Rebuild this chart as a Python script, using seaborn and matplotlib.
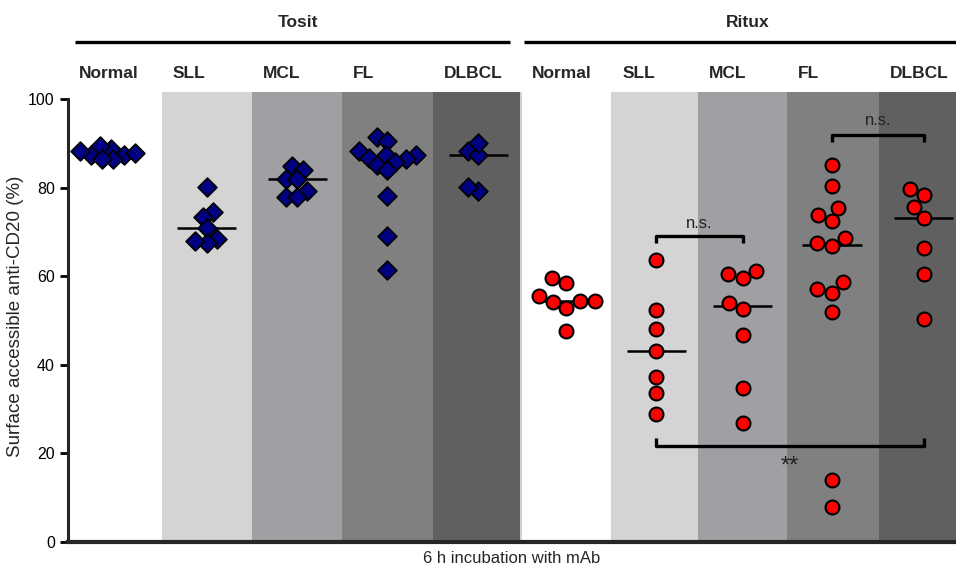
import numpy as np
import pandas as pd
import seaborn as sns
import matplotlib.pyplot as plt
import matplotlib.transforms as mtransforms

# ---------------- data ----------------
drugs = ['Tosit', 'Ritux']
types = ['Normal', 'SLL', 'MCL', 'FL', 'DLBCL']

tosit_normal = [87.3, 87.5, 87.9, 88.8, 89.4, 88.2, 86.4, 86.6]
tosit_sll = [80.1, 74.5, 73.3, 71.0, 68.3, 67.4, 67.9]
tosit_mcl = [84.8, 84.1, 82.0, 82.0, 79.2, 77.9, 77.9]
tosit_fl = [91.5, 90.5, 88.2, 87.5, 87.5, 86.8, 86.4, 85.9, 85.2, 84.1, 78.2, 69.2, 61.3]
tosit_dlbcl = [88.2, 87.3, 90.1, 79.2, 80.2]

ritux_normal = [58.5, 59.6, 55.6, 54.3, 54.5, 54.2, 52.8, 47.7]
ritux_sll = [63.6, 52.4, 48.0, 43.1, 37.2, 33.7, 28.8]
ritux_mcl = [61.1, 59.6, 60.5, 53.9, 52.6, 46.8, 34.8, 26.8]
ritux_fl = [85.2, 80.3, 75.4, 73.8, 72.4, 68.6, 66.9, 67.4, 57.1, 58.6, 56.3, 51.8, 14.0, 7.9]
ritux_dlbcl = [79.8, 78.4, 75.7, 73.2, 66.4, 60.5, 50.4]

# ---------------- layout ----------------
band_left = [0, 1.04, 2.05, 3.05, 4.06, 5.04, 6.04, 7.0, 7.99, 9.01]
band_right = [1.04, 2.05, 3.05, 4.06, 5.02, 6.04, 7.0, 7.99, 9.01, 9.87]
band_colors = ['white', '#d4d4d4', '#a0a0a4', '#808080', '#606060'] * 2
centers = [l + 0.5 for l in band_left]

values = {
    ('Tosit', 'Normal'): tosit_normal, ('Tosit', 'SLL'): tosit_sll,
    ('Tosit', 'MCL'): tosit_mcl, ('Tosit', 'FL'): tosit_fl,
    ('Tosit', 'DLBCL'): tosit_dlbcl,
    ('Ritux', 'Normal'): ritux_normal, ('Ritux', 'SLL'): ritux_sll,
    ('Ritux', 'MCL'): ritux_mcl, ('Ritux', 'FL'): ritux_fl,
    ('Ritux', 'DLBCL'): ritux_dlbcl,
}

rows = []
for i, (d, t) in enumerate([(d, t) for d in drugs for t in types]):
    for v in values[(d, t)]:
        rows.append({'drug': d, 'type': t, 'xpos': centers[i], 'value': v})
df = pd.DataFrame(rows)

sns.set_style('ticks')
plt.rcParams['font.family'] = ['Liberation Sans', 'DejaVu Sans']

fig = plt.figure(figsize=(9.56, 5.71), dpi=100)
ax = fig.add_axes([68 / 956, 29.3 / 571, 888 / 956, 450 / 571])

# background bands
for l, r, c in zip(band_left, band_right, band_colors):
    ax.axvspan(l, r, color=c, zorder=0, lw=0)
ax.axvline(5.03, color='#c8c8c8', lw=1.2, zorder=0.5)

# points: swarm laid out with a smaller marker, then markers enlarged
# (the original scatter lets markers overlap)
n0 = len(ax.collections)
sns.swarmplot(data=df[df['drug'] == 'Tosit'], x='xpos', y='value', native_scale=True,
              marker='D', color='#000080', edgecolor='black', linewidth=1.3,
              size=6.5, ax=ax, zorder=3)
n1 = len(ax.collections)
sns.swarmplot(data=df[df['drug'] == 'Ritux'], x='xpos', y='value', native_scale=True,
              marker='o', color='#ff0000', edgecolor='black', linewidth=1.5,
              size=9, ax=ax, zorder=3)
n2 = len(ax.collections)

ax.set_xlim(0, 9.87)
ax.set_ylim(0, 101.7)
fig.canvas.draw()
for coll in ax.collections[n0:n1]:
    coll.__dict__.pop('draw', None)
    coll.set_sizes([9.5 ** 2])
for coll in ax.collections[n1:n2]:
    coll.__dict__.pop('draw', None)
    coll.set_sizes([10 ** 2])

# median lines
med = df.groupby('xpos')['value'].median()
ax.hlines(med.values, med.index - 0.33, med.index + 0.33, color='black', lw=1.8, zorder=2)

# significance brackets
def bracket(x1, x2, y, h, label, ty, fs):
    ax.plot([x1, x1, x2, x2], [y + h, y, y, y + h], color='black', lw=2.4,
            solid_capstyle='butt', zorder=4)
    ax.text((x1 + x2) / 2, ty, label, ha='center', va='center', fontsize=fs,
            color='#222222', zorder=4)

bracket(centers[6], centers[7], 69.1, -1.6, 'n.s.', 71.9, 12)
bracket(centers[8], centers[9], 92.0, -1.6, 'n.s.', 95.2, 12)
bracket(centers[6], centers[9], 21.7, 1.7, '**', 16.9, 17)

ax.set_yticks([0, 20, 40, 60, 80, 100])
ax.set_xticks([])
ax.tick_params(axis='y', length=6, width=2, labelsize=11.5, colors='black')
for s in ['top', 'right']:
    ax.spines[s].set_visible(False)
ax.spines['left'].set_linewidth(2.2)
ax.spines['left'].set_bounds(0, 100)
ax.spines['bottom'].set_linewidth(3)
ax.set_xlabel('6 h incubation with mAb', fontsize=12, labelpad=7)
ax.set_ylabel('Surface accessible anti-CD20 (%)', fontsize=13.5, labelpad=3)

# group headers above the axes
trans = mtransforms.blended_transform_factory(ax.transData, fig.transFigure)
for d, x, x1, x2 in [('Tosit', 2.56, 0.08, 4.91), ('Ritux', 7.56, 5.07, 9.87)]:
    fig.text(x, 0.961, d, transform=trans, ha='center', va='center',
             fontsize=12.5, fontweight='bold')
    ax.plot([x1, x2], [0.926, 0.926], transform=trans, color='black', lw=2.4,
            clip_on=False, solid_capstyle='butt')
for i, t in enumerate(types * 2):
    fig.text(band_left[i] + 0.12, 0.872, t, transform=trans, ha='left', va='center',
             fontsize=12.5, fontweight='bold')

fig.savefig('out.png', dpi=100)
